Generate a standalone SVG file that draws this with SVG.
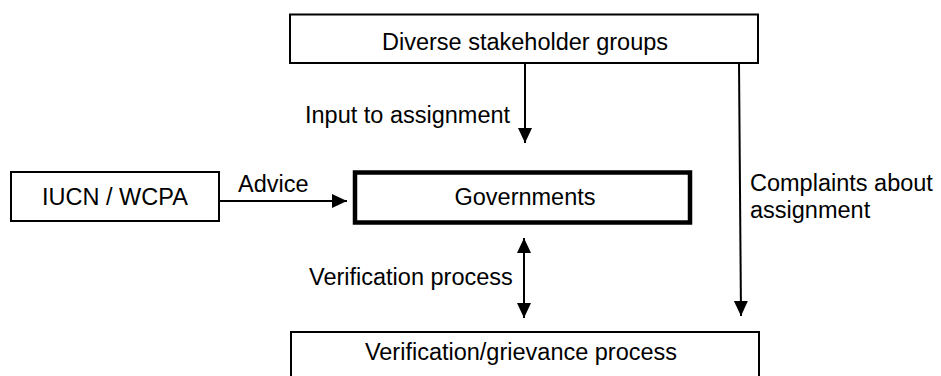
<svg xmlns="http://www.w3.org/2000/svg" width="941" height="376" viewBox="0 0 941 376">
<style>
text{font-family:"Liberation Sans",Arial,sans-serif;font-size:23.5px;fill:#000}
.box{fill:#fff;stroke:#000;stroke-width:2}
.thick{fill:#fff;stroke:#000;stroke-width:4.5}
.c{text-anchor:middle}
.line{stroke:#000;stroke-width:2;fill:none}
</style>
<defs>
<marker id="ah" markerUnits="userSpaceOnUse" markerWidth="16" markerHeight="16" viewBox="0 0 16 16" refX="15" refY="8" orient="auto-start-reverse">
<path d="M0,1 L15,8 L0,15 Z" fill="#000"/>
</marker>
</defs>
<rect width="941" height="376" fill="#fff"/>
<g id="connectors">
<line class="line" x1="525" y1="63" x2="525" y2="143" marker-end="url(#ah)"/>
<line class="line" x1="219" y1="201" x2="347" y2="201" marker-end="url(#ah)"/>
<line class="line" x1="739" y1="63" x2="741" y2="316" marker-end="url(#ah)"/>
<line class="line" x1="524" y1="238" x2="524" y2="318" marker-start="url(#ah)" marker-end="url(#ah)"/>
<text x="305" y="123">Input to assignment</text>
<text x="238" y="192">Advice</text>
<text x="309" y="285">Verification process</text>
<text x="750" y="191">Complaints about</text>
<text x="750" y="218">assignment</text>
</g>
<g id="stakeholders">
<rect class="box" x="290" y="14.5" width="468" height="48.5"/>
<text class="c" x="525" y="50">Diverse stakeholder groups</text>
</g>
<g id="iucn">
<rect class="box" x="11" y="172" width="208" height="49"/>
<text class="c" x="115" y="205">IUCN / WCPA</text>
</g>
<g id="governments">
<rect class="thick" x="355" y="172.5" width="335" height="50"/>
<text class="c" x="525" y="205">Governments</text>
</g>
<g id="verification">
<rect class="box" x="291" y="332" width="468" height="52"/>
<text class="c" x="521" y="360">Verification/grievance process</text>
</g>
</svg>
